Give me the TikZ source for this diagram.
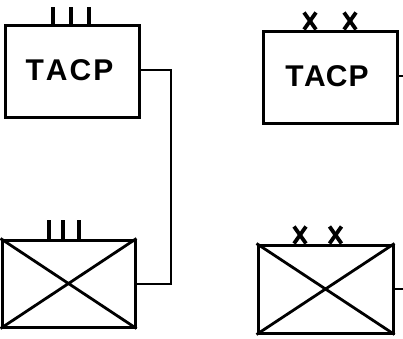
\documentclass[tikz,border=0pt]{standalone}
\usepackage{fontspec}
\setmainfont{Liberation Sans}
\begin{document}
\begin{tikzpicture}[x=1pt,y=-1pt,
  unit/.style={draw,line width=3pt,minimum width=134pt,minimum height=92pt,inner sep=0pt},
  lab/.style={font=\bfseries\fontsize{30}{31}\selectfont,text=black},
  wire/.style={line width=2.8pt},
  tick/.style={line width=3.8pt},
  xmark/.style={line width=3.8pt}]
\useasboundingbox (0,0) rectangle (403,338);
% top row: TACP units
\node[unit] (t1) at (72,71) {};
\node[lab] (l1) at (69.5,70) {T\kern2pt A\kern2pt C\kern2pt P};
\node[unit] (t2) at (330,77) {};
\node[lab] (l2) at (327,76) {T\kern.5pt AC\kern1pt P};
% bottom row: crossed boxes
\node[unit,minimum width=133pt,minimum height=87pt] (b1) at (68.5,283.5) {};
\draw[wire] (b1.north west) -- (b1.south east) (b1.south west) -- (b1.north east);
\node[unit,minimum width=135pt,minimum height=88pt] (b2) at (325.5,289) {};
\draw[wire] (b2.north west) -- (b2.south east) (b2.south west) -- (b2.north east);
% echelon ticks (three bars)
\foreach \dx in {-19,-1,17} \draw[tick] ([xshift=\dx pt]t1.north) -- ++(0,-17);
\foreach \dx in {-19.5,-5.5,10.5} \draw[tick] ([xshift=\dx pt]b1.north) -- ++(0,-19);
% echelon crosses
\foreach \dx in {-20,20} {
  \draw[xmark] ([xshift=\dx pt-6pt]t2.north) -- ++(12,-17);
  \draw[xmark] ([xshift=\dx pt+6pt]t2.north) -- ++(-12,-17);
}
\foreach \dx in {-25.5,10} {
  \draw[xmark] ([xshift=\dx pt-6pt]b2.north) -- ++(12,-17);
  \draw[xmark] ([xshift=\dx pt+6pt]b2.north) -- ++(-12,-17);
}
% link between the left units
\coordinate (k1) at (171,70);
\coordinate (k2) at (171,284);
\draw[wire] (t1.east |- k1) -- (k1) -- (k2) -- (b1.east |- k2);
% stubs leaving the right units
\coordinate (s1) at (403,76);
\coordinate (s2) at (403,289);
\draw[wire] (t2.east |- s1) -- (s1);
\draw[wire] (b2.east |- s2) -- (s2);
\end{tikzpicture}
\end{document}
